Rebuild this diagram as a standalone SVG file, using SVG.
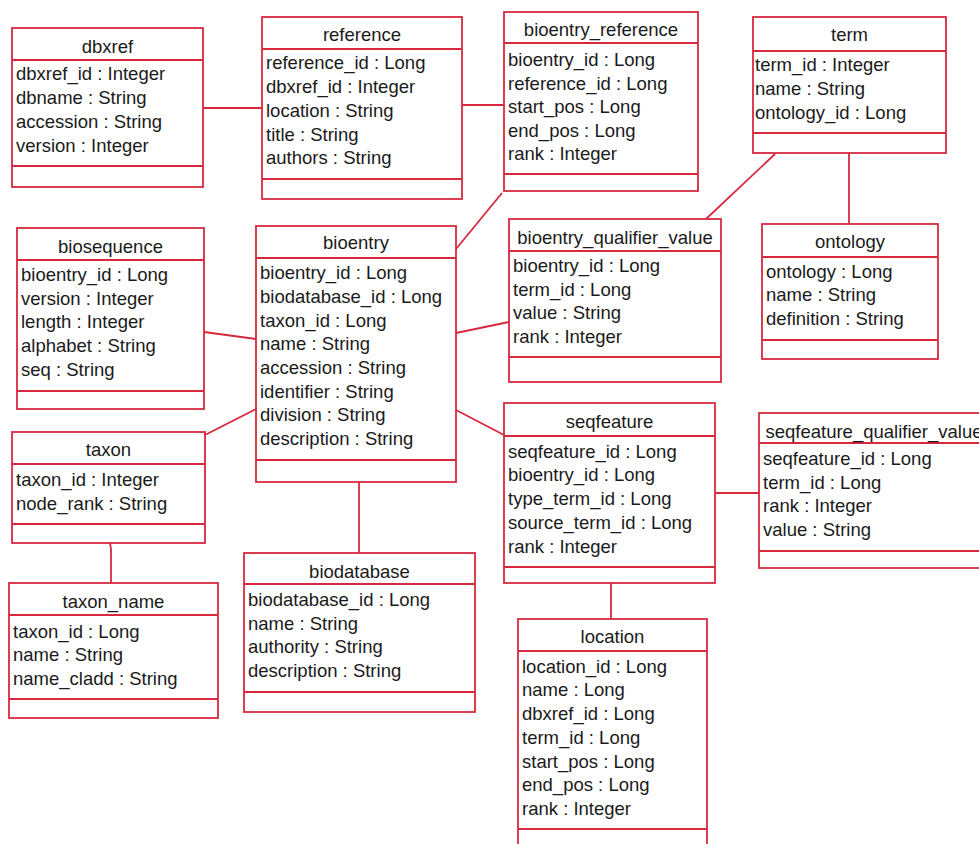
<svg xmlns="http://www.w3.org/2000/svg" width="979" height="844" viewBox="0 0 979 844">
<style>
.b{fill:#fff;stroke:#d8283f;stroke-width:1.8}
.l{stroke:#d8283f;stroke-width:1.8;fill:none}
text{font-family:"Liberation Sans",Arial,sans-serif;font-size:18.5px;fill:#1a1a1a}
.t{text-anchor:middle}
</style>
<rect width="979" height="844" fill="#fff"/>
<g id="connectors" class="l">
<line x1="203" y1="108" x2="262" y2="108"/>
<line x1="462" y1="105" x2="504" y2="105"/>
<line x1="849" y1="153" x2="849" y2="224"/>
<line x1="775" y1="154" x2="706" y2="219"/>
<line x1="204" y1="332" x2="256" y2="339"/>
<line x1="205" y1="435" x2="256" y2="409"/>
<line x1="456" y1="249" x2="502" y2="193"/>
<line x1="456" y1="333" x2="509" y2="322"/>
<line x1="456" y1="410" x2="504" y2="435"/>
<line x1="715" y1="493" x2="759" y2="493"/>
<line x1="611" y1="583" x2="611" y2="619"/>
<polyline points="110,543 111,549 111,583"/>
<line x1="359" y1="482" x2="359" y2="553"/>
</g>
<g id="dbxref">
<rect class="b" x="12" y="28" width="191" height="159"/>
<line class="l" x1="12" y1="60" x2="203" y2="60"/><line class="l" x1="12" y1="166" x2="203" y2="166"/>
<text class="t" x="107.5" y="53">dbxref</text>
<text x="16" y="80">dbxref_id : Integer</text><text x="16" y="104">dbname : String</text><text x="16" y="128">accession : String</text><text x="16" y="152">version : Integer</text>
</g>
<g id="reference">
<rect class="b" x="262" y="17" width="200" height="182"/>
<line class="l" x1="262" y1="49" x2="462" y2="49"/><line class="l" x1="262" y1="179" x2="462" y2="179"/>
<text class="t" x="362" y="41">reference</text>
<text x="266" y="69">reference_id : Long</text><text x="266" y="93">dbxref_id : Integer</text><text x="266" y="117">location : String</text><text x="266" y="141">title : String</text><text x="266" y="164">authors : String</text>
</g>
<g id="bioentry_reference">
<rect class="b" x="504" y="12" width="194" height="179"/>
<line class="l" x1="504" y1="43" x2="698" y2="43"/><line class="l" x1="504" y1="174" x2="698" y2="174"/>
<text class="t" x="601" y="36">bioentry_reference</text>
<text x="508" y="66">bioentry_id : Long</text><text x="508" y="90">reference_id : Long</text><text x="508" y="113">start_pos : Long</text><text x="508" y="137">end_pos : Long</text><text x="508" y="160">rank : Integer</text>
</g>
<g id="term">
<rect class="b" x="753" y="17" width="193" height="136"/>
<line class="l" x1="753" y1="51" x2="946" y2="51"/><line class="l" x1="753" y1="133" x2="946" y2="133"/>
<text class="t" x="849.5" y="41">term</text>
<text x="755" y="71">term_id : Integer</text><text x="755" y="95">name : String</text><text x="755" y="119">ontology_id : Long</text>
</g>
<g id="ontology">
<rect class="b" x="762" y="224" width="176" height="135"/>
<line class="l" x1="762" y1="257" x2="938" y2="257"/><line class="l" x1="762" y1="340" x2="938" y2="340"/>
<text class="t" x="850" y="248">ontology</text>
<text x="766" y="278">ontology : Long</text><text x="766" y="301">name : String</text><text x="766" y="325">definition : String</text>
</g>
<g id="biosequence">
<rect class="b" x="17" y="228" width="187" height="181"/>
<line class="l" x1="17" y1="260" x2="204" y2="260"/><line class="l" x1="17" y1="391" x2="204" y2="391"/>
<text class="t" x="110.5" y="253">biosequence</text>
<text x="21" y="281">bioentry_id : Long</text><text x="21" y="305">version : Integer</text><text x="21" y="328">length : Integer</text><text x="21" y="352">alphabet : String</text><text x="21" y="376">seq : String</text>
</g>
<g id="bioentry">
<rect class="b" x="256" y="226" width="200" height="256"/>
<line class="l" x1="256" y1="258" x2="456" y2="258"/><line class="l" x1="256" y1="460" x2="456" y2="460"/>
<text class="t" x="356" y="249">bioentry</text>
<text x="260" y="279">bioentry_id : Long</text><text x="260" y="303">biodatabase_id : Long</text><text x="260" y="327">taxon_id : Long</text><text x="260" y="350">name : String</text><text x="260" y="374">accession : String</text><text x="260" y="398">identifier : String</text><text x="260" y="421">division : String</text><text x="260" y="445">description : String</text>
</g>
<g id="bioentry_qualifier_value">
<rect class="b" x="509" y="219" width="212" height="163"/>
<line class="l" x1="509" y1="251" x2="721" y2="251"/><line class="l" x1="509" y1="357" x2="721" y2="357"/>
<text class="t" x="615" y="244">bioentry_qualifier_value</text>
<text x="513" y="272">bioentry_id : Long</text><text x="513" y="296">term_id : Long</text><text x="513" y="319">value : String</text><text x="513" y="343">rank : Integer</text>
</g>
<g id="seqfeature">
<rect class="b" x="504" y="403" width="211" height="180"/>
<line class="l" x1="504" y1="436" x2="715" y2="436"/><line class="l" x1="504" y1="567" x2="715" y2="567"/>
<text class="t" x="609.5" y="428">seqfeature</text>
<text x="508" y="458">seqfeature_id : Long</text><text x="508" y="481">bioentry_id : Long</text><text x="508" y="505">type_term_id : Long</text><text x="508" y="529">source_term_id : Long</text><text x="508" y="553">rank : Integer</text>
</g>
<g id="seqfeature_qualifier_value">
<rect class="b" x="759" y="413" width="232" height="155"/>
<line class="l" x1="759" y1="443" x2="991" y2="443"/><line class="l" x1="759" y1="551" x2="991" y2="551"/>
<text class="t" x="874" y="438">seqfeature_qualifier_value</text>
<text x="763" y="465">seqfeature_id : Long</text><text x="763" y="489">term_id : Long</text><text x="763" y="512">rank : Integer</text><text x="763" y="536">value : String</text>
</g>
<g id="location">
<rect class="b" x="518" y="619" width="189" height="240"/>
<line class="l" x1="518" y1="651" x2="707" y2="651"/><line class="l" x1="518" y1="829" x2="707" y2="829"/>
<text class="t" x="612.5" y="643">location</text>
<text x="522" y="673">location_id : Long</text><text x="522" y="696">name : Long</text><text x="522" y="720">dbxref_id : Long</text><text x="522" y="744">term_id : Long</text><text x="522" y="768">start_pos : Long</text><text x="522" y="791">end_pos : Long</text><text x="522" y="815">rank : Integer</text>
</g>
<g id="taxon">
<rect class="b" x="12" y="432" width="193" height="111"/>
<line class="l" x1="12" y1="464" x2="205" y2="464"/><line class="l" x1="12" y1="524" x2="205" y2="524"/>
<text class="t" x="108.5" y="456">taxon</text>
<text x="16" y="486">taxon_id : Integer</text><text x="16" y="510">node_rank : String</text>
</g>
<g id="taxon_name">
<rect class="b" x="9" y="583" width="209" height="135"/>
<line class="l" x1="9" y1="615" x2="218" y2="615"/><line class="l" x1="9" y1="699" x2="218" y2="699"/>
<text class="t" x="113.5" y="608">taxon_name</text>
<text x="13" y="638">taxon_id : Long</text><text x="13" y="661">name : String</text><text x="13" y="685">name_cladd : String</text>
</g>
<g id="biodatabase">
<rect class="b" x="244" y="553" width="231" height="159"/>
<line class="l" x1="244" y1="584" x2="475" y2="584"/><line class="l" x1="244" y1="692" x2="475" y2="692"/>
<text class="t" x="359.5" y="578">biodatabase</text>
<text x="248" y="606">biodatabase_id : Long</text><text x="248" y="630">name : String</text><text x="248" y="653">authority : String</text><text x="248" y="677">description : String</text>
</g>
</svg>
